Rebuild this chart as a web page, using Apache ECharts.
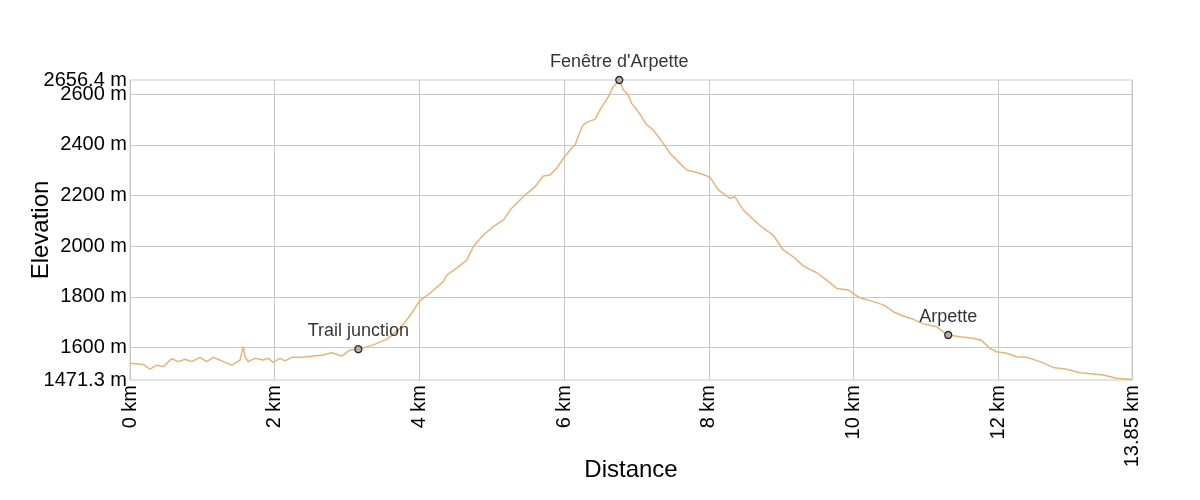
<!DOCTYPE html>
<html>
<head>
<meta charset="utf-8">
<script src="https://cdn.jsdelivr.net/npm/echarts@6/dist/echarts.min.js"></script>
<style>html,body{margin:0;padding:0;background:#fff}#c{width:1200px;height:500px}</style>
</head>
<body>
<div id="c"></div>
<script>
const distanceKm = [0, 0.184, 0.276, 0.369, 0.460, 0.576, 0.668, 0.760, 0.853, 0.968, 1.060, 1.151, 1.244, 1.406, 1.520, 1.566, 1.590, 1.635, 1.728, 1.842, 1.912, 1.981, 2.073, 2.142, 2.235, 2.395, 2.534, 2.672, 2.788, 2.926, 3.041, 3.156, 3.363, 3.548, 3.732, 3.870, 4.008, 4.146, 4.330, 4.377, 4.515, 4.654, 4.745, 4.883, 5.021, 5.160, 5.276, 5.436, 5.598, 5.712, 5.805, 5.898, 5.989, 6.105, 6.151, 6.220, 6.265, 6.334, 6.427, 6.496, 6.611, 6.680, 6.763, 6.818, 6.887, 6.934, 7.026, 7.142, 7.233, 7.371, 7.464, 7.602, 7.695, 7.878, 8.017, 8.131, 8.293, 8.362, 8.477, 8.615, 8.753, 8.891, 9.030, 9.168, 9.306, 9.491, 9.630, 9.768, 9.928, 10.066, 10.113, 10.274, 10.412, 10.550, 10.688, 10.827, 10.965, 11.150, 11.241, 11.310, 11.472, 11.656, 11.772, 11.887, 11.979, 12.117, 12.255, 12.394, 12.578, 12.761, 12.947, 13.131, 13.314, 13.452, 13.638, 13.82, 13.85];
const elevationM = [1537, 1533, 1514, 1530, 1524, 1555, 1544, 1553, 1544, 1561, 1544, 1561, 1550, 1530, 1550, 1603, 1563, 1544, 1557, 1550, 1557, 1541, 1557, 1547, 1561, 1561, 1566, 1570, 1579, 1566, 1590, 1593, 1610, 1632, 1675, 1725, 1785, 1814, 1860, 1886, 1913, 1945, 1998, 2044, 2077, 2103, 2150, 2195, 2235, 2277, 2281, 2308, 2347, 2387, 2400, 2452, 2479, 2492, 2501, 2538, 2590, 2630, 2656.4, 2617, 2597, 2564, 2531, 2479, 2459, 2406, 2367, 2327, 2301, 2288, 2272, 2222, 2189, 2195, 2143, 2106, 2071, 2044, 1985, 1958, 1922, 1895, 1866, 1833, 1827, 1800, 1794, 1781, 1768, 1741, 1724, 1711, 1693, 1682, 1662, 1649, 1642, 1636, 1627, 1596, 1583, 1577, 1563, 1561, 1544, 1521, 1514, 1500, 1495, 1491, 1478, 1474, 1472];
const waypointNames = ['Trail junction', "Fenêtre d'Arpette", 'Arpette'];
const waypointKm = [3.156, 6.763, 11.31];
const waypointElev = [1593, 2656.4, 1649];
const yTicks = [1600, 1800, 2000, 2200, 2400, 2600];
const yEndTicks = [1471.3, 2656.4];
const xTicks = [0, 2, 4, 6, 8, 10, 12, 13.85];

const font = '"Liberation Sans", Arial, sans-serif';
const chart = echarts.init(document.getElementById('c'), null, {renderer: 'canvas'});
chart.setOption({
  animation: false,
  backgroundColor: '#fff',
  grid: {left: 130, right: 68, top: 80, bottom: 120, show: true, borderColor: '#c8c8c8', borderWidth: 1,
    containLabel: false, outerBoundsMode: 'none'},
  xAxis: {
    type: 'value', min: 0, max: 13.85,
    name: 'Distance', nameLocation: 'middle', nameGap: 78, nameMoveOverlap: false,
    nameTextStyle: {fontFamily: font, fontSize: 24, color: '#000'},
    axisLine: {show: false},
    axisTick: {show: false, customValues: xTicks},
    axisLabel: {customValues: xTicks, rotate: 90, margin: 5, fontFamily: font, fontSize: 20, color: '#000',
      showMinLabel: true, showMaxLabel: true, hideOverlap: false,
      formatter: v => v + ' km'},
    splitLine: {show: true, lineStyle: {color: '#c8c8c8', width: 1}}
  },
  yAxis: [{
    type: 'value', min: 1471.3, max: 2656.4, position: 'left',
    name: 'Elevation', nameLocation: 'middle', nameGap: 77, nameMoveOverlap: false,
    nameTextStyle: {fontFamily: font, fontSize: 24, color: '#000'},
    axisLine: {show: false},
    axisTick: {show: false, customValues: yTicks},
    axisLabel: {customValues: yTicks, margin: 3, fontFamily: font, fontSize: 20, color: '#000',
      showMinLabel: true, showMaxLabel: true, hideOverlap: false,
      formatter: v => v + ' m'},
    splitLine: {show: true, lineStyle: {color: '#c8c8c8', width: 1}}
  }, {
    type: 'value', min: 1471.3, max: 2656.4, position: 'left', offset: 0,
    axisLine: {show: false},
    axisTick: {show: false, customValues: yEndTicks},
    axisLabel: {customValues: yEndTicks, margin: 3, fontFamily: font, fontSize: 20, color: '#000',
      showMinLabel: true, showMaxLabel: true, hideOverlap: false,
      formatter: v => v + ' m'},
    splitLine: {show: false}
  }],
  series: [{
    type: 'line',
    data: distanceKm.map((d, i) => [d, elevationM[i]]),
    showSymbol: false,
    lineStyle: {color: '#e6b37c', width: 1.5},
    itemStyle: {color: '#e6b37c'},
    z: 2
  }, {
    type: 'scatter',
    data: waypointKm.map((d, i) => ({value: [d, waypointElev[i]], name: waypointNames[i]})),
    symbol: 'circle', symbolSize: 7,
    itemStyle: {color: '#aaa59a', borderColor: '#000', borderWidth: 1.3},
    label: {show: true, position: 'top', distance: 5, formatter: p => p.name,
      fontFamily: font, fontSize: 18, color: '#000'},
    z: 3
  }]
});
</script>
</body>
</html>
